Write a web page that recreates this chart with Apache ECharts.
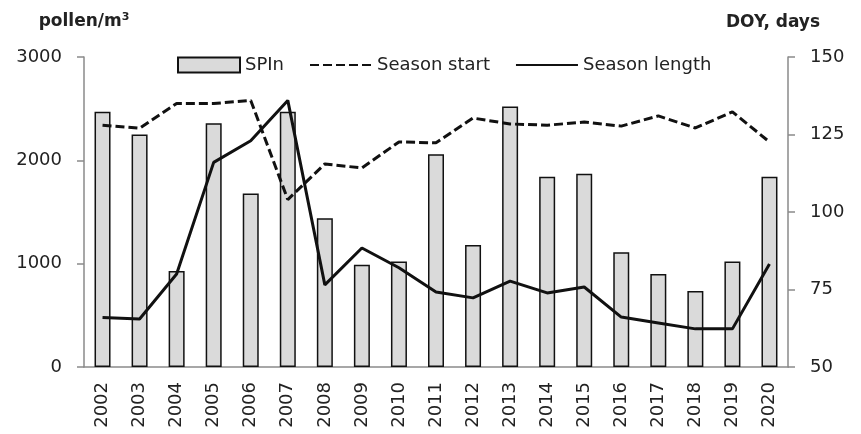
<!DOCTYPE html>
<html>
<head>
<meta charset="utf-8">
<script src="https://cdn.jsdelivr.net/npm/echarts@6/dist/echarts.min.js"></script>
<style>
html, body { margin: 0; padding: 0; background: #fff; }
#main { width: 861px; height: 434px; }
</style>
</head>
<body>
<div id="main"></div>
<script>
var years = ['2002', '2003', '2004', '2005', '2006', '2007', '2008', '2009', '2010', '2011',
  '2012', '2013', '2014', '2015', '2016', '2017', '2018', '2019', '2020']
var spin = [2470, 2250, 930, 2360, 1680, 2470, 1440, 990, 1020, 2060,
  1180, 2520, 1840, 1870, 1110, 900, 735, 1020, 1840]
var seasonStart = [128, 127, 135, 135, 136, 104, 115.5, 114.2, 122.6, 122.3,
  130.3, 128.4, 128, 129, 127.7, 131, 127.1, 132.3, 122.6]
var seasonLength = [66, 65.5, 80, 116, 123, 136, 76.5, 88.4, 82, 74.2,
  72.3, 77.7, 73.9, 75.8, 66.1, 64.2, 62.3, 62.3, 83.2]

var font = 'DejaVu Sans'
var axisGray = '#8a8a8a'

var chart = echarts.init(document.getElementById('main'))
var option = {
  backgroundColor: '#fff',
  animation: false,
  textStyle: { fontFamily: font },
  grid: { left: 84, right: 73, top: 57, bottom: 67 },
  legend: {
    left: 172,
    top: 51,
    itemWidth: 62,
    itemHeight: 15,
    itemGap: 25,
    textStyle: { fontFamily: font, fontSize: 18, color: '#222' },
    data: [
      { name: 'SPIn', icon: 'rect' },
      { name: 'Season start', itemStyle: { opacity: 0 } },
      { name: 'Season length', itemStyle: { opacity: 0 } }
    ]
  },
  xAxis: {
    type: 'category',
    data: years,
    boundaryGap: true,
    axisLine: { lineStyle: { color: axisGray, width: 1.5 } },
    axisTick: { alignWithLabel: false, length: 6, lineStyle: { color: axisGray, width: 1.5 } },
    axisLabel: { rotate: 90, margin: 15, fontSize: 18, color: '#222', fontFamily: font }
  },
  yAxis: [{
    type: 'value',
    min: 0,
    max: 3000,
    interval: 1000,
    name: 'pollen/m{sup|3}',
    nameLocation: 'end',
    nameGap: 26,
    nameTextStyle: {
      fontFamily: font, fontSize: 17, fontWeight: 'bold', color: '#222',
      rich: { sup: { fontSize: 11, fontWeight: 'bold', verticalAlign: 'top', padding: [0, 0, 8, 0] } }
    },
    axisLine: { show: true, lineStyle: { color: axisGray, width: 1.5 } },
    axisTick: { show: true, length: 7, lineStyle: { color: axisGray, width: 1.5 } },
    axisLabel: {
      margin: 22, fontSize: 18, color: '#222', fontFamily: font,
      formatter: function (v) { return String(v) }
    },
    splitLine: { show: false }
  }, {
    type: 'value',
    position: 'right',
    min: 50,
    max: 150,
    interval: 25,
    name: 'DOY, days',
    nameLocation: 'end',
    nameGap: 26,
    nameTextStyle: {
      fontFamily: font, fontSize: 17, fontWeight: 'bold', color: '#222',
      padding: [0, 30, 0, 0]
    },
    axisLine: { show: true, lineStyle: { color: axisGray, width: 1.5 } },
    axisTick: { show: true, length: 7, lineStyle: { color: axisGray, width: 1.5 } },
    axisLabel: { margin: 22, fontSize: 18, color: '#222', fontFamily: font },
    splitLine: { show: false }
  }],
  series: [{
    name: 'SPIn',
    type: 'bar',
    yAxisIndex: 0,
    barWidth: 16,
    data: spin,
    itemStyle: { color: '#dadada', borderColor: '#111', borderWidth: 1.5 }
  }, {
    name: 'Season start',
    type: 'line',
    yAxisIndex: 1,
    data: seasonStart,
    symbol: 'none',
    itemStyle: { color: '#111' },
    lineStyle: { color: '#111', width: 3, type: [9, 4] }
  }, {
    name: 'Season length',
    type: 'line',
    yAxisIndex: 1,
    data: seasonLength,
    symbol: 'none',
    itemStyle: { color: '#111' },
    lineStyle: { color: '#111', width: 3 }
  }]
}
chart.setOption(option)
</script>
</body>
</html>
